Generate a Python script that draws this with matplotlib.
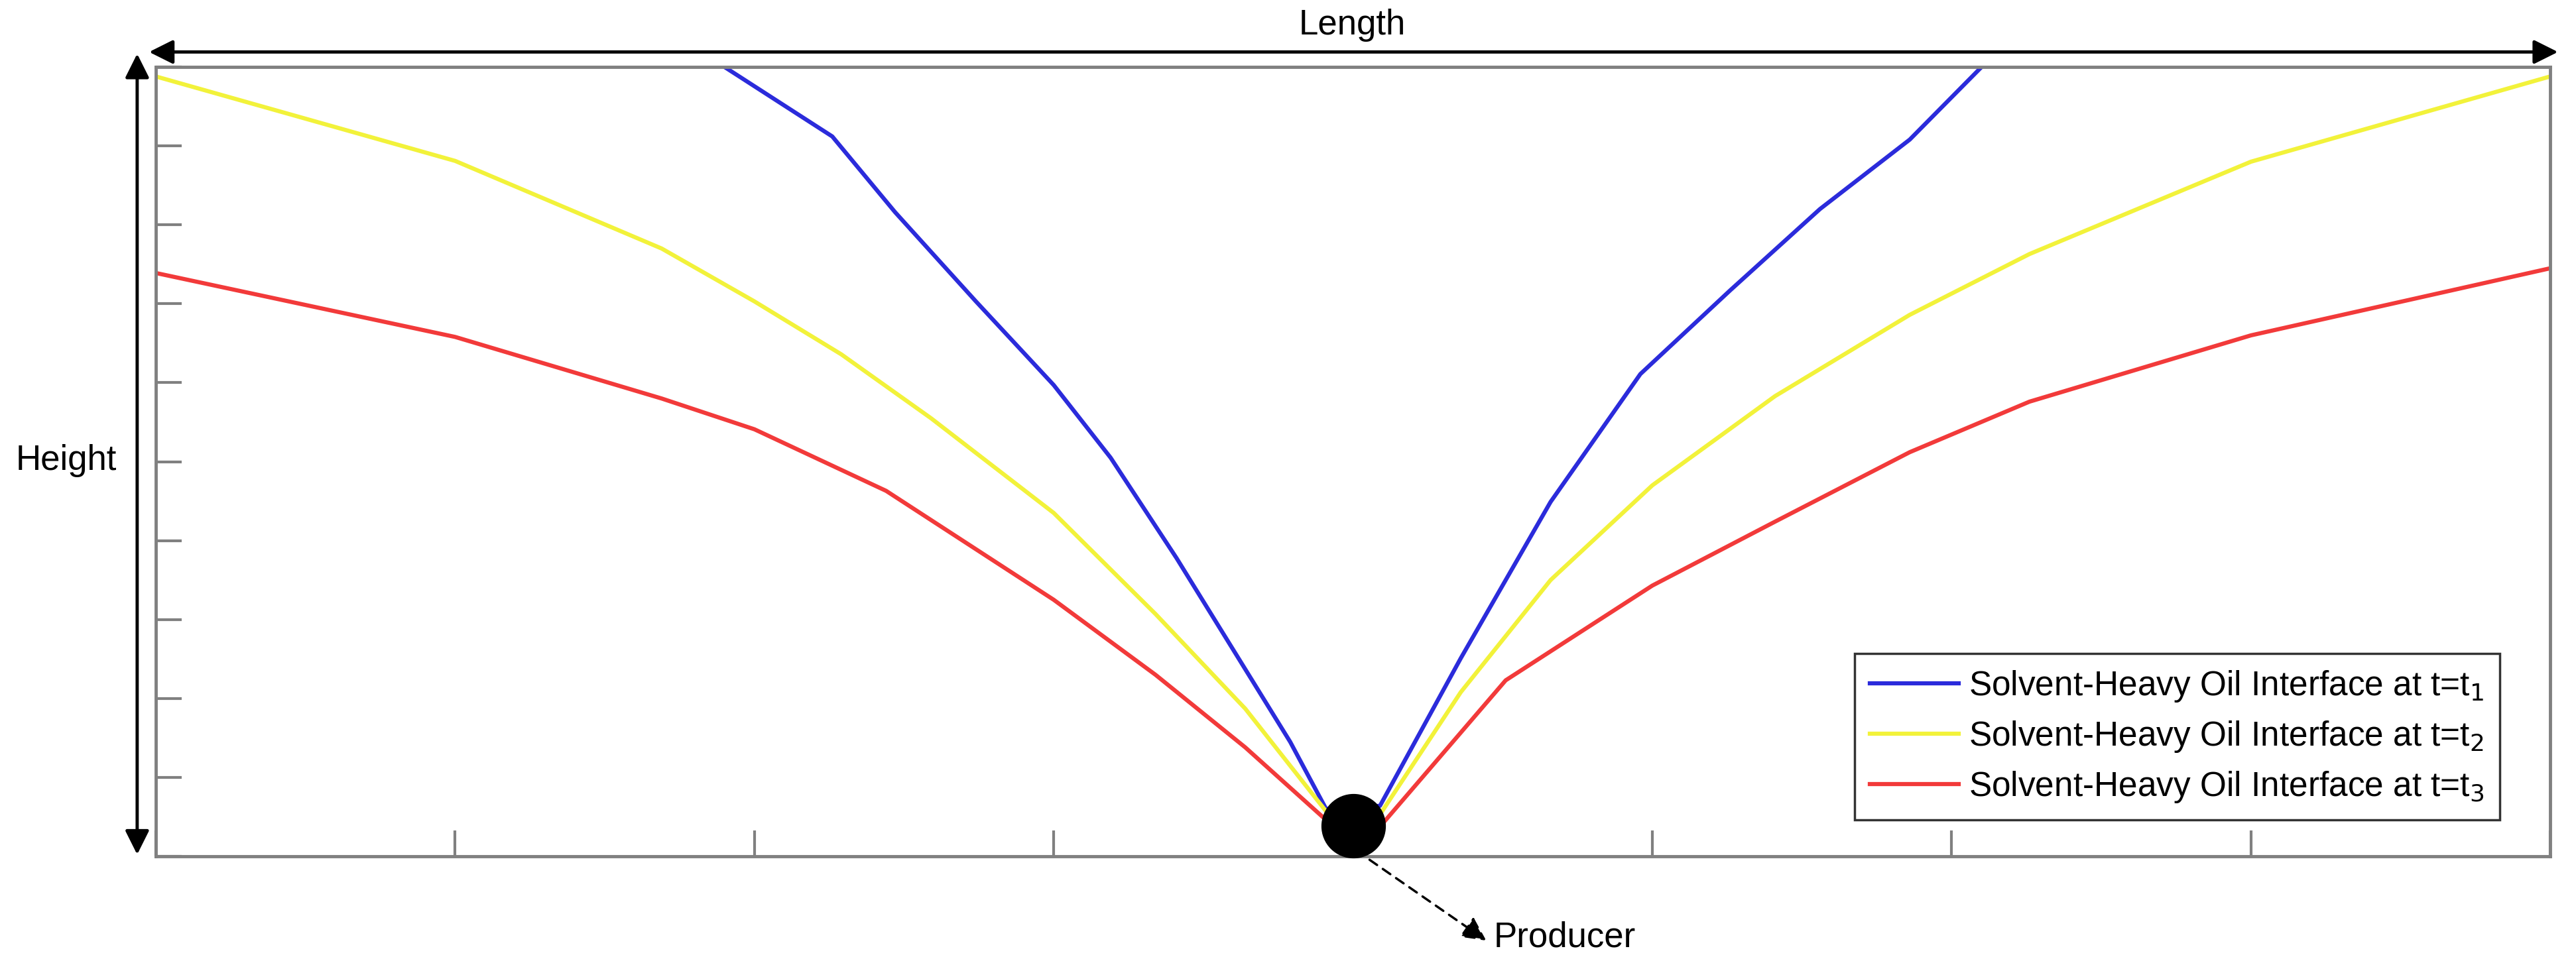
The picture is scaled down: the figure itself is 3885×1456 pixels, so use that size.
import matplotlib
matplotlib.use("Agg")
import matplotlib.pyplot as plt

plt.rcParams['font.family'] = ['Liberation Sans', 'DejaVu Sans']

# interface curves, x in [0, 8] (length units), y in [0, 10] (height units)
t1_x = [1.90, 2.26, 2.47, 2.74, 3.00, 3.19, 3.41, 3.64, 3.79, 3.91,
        4.09, 4.36, 4.66, 4.96, 5.26, 5.56, 5.86, 6.10]
t1_y = [10.0, 9.12, 8.16, 7.03, 5.97, 5.05, 3.78, 2.37, 1.45, 0.60,
        0.64, 2.51, 4.49, 6.11, 7.17, 8.20, 9.08, 10.0]
t2_x = [0.00, 1.00, 1.69, 2.00, 2.29, 2.59, 3.00, 3.34, 3.64, 3.91,
        4.09, 4.36, 4.66, 5.00, 5.41, 5.86, 6.26, 7.00, 8.00]
t2_y = [9.88, 8.81, 7.70, 7.03, 6.36, 5.55, 4.35, 3.07, 1.87, 0.57,
        0.53, 2.08, 3.50, 4.70, 5.83, 6.86, 7.63, 8.80, 9.88]
t3_x = [0.00, 1.00, 1.69, 2.00, 2.44, 3.00, 3.34, 3.64, 3.91,
        4.10, 4.51, 5.00, 5.41, 5.86, 6.26, 7.00, 8.00]
t3_y = [7.39, 6.58, 5.80, 5.41, 4.63, 3.25, 2.30, 1.38, 0.46,
        0.42, 2.23, 3.43, 4.24, 5.12, 5.76, 6.60, 7.45]
labels = ["Solvent-Heavy Oil Interface at t=t$_1$",
          "Solvent-Heavy Oil Interface at t=t$_2$",
          "Solvent-Heavy Oil Interface at t=t$_3$"]
producer = (4.0, 0.39)

fig = plt.figure(figsize=(38.85, 14.56), dpi=100)
ax = fig.add_axes([0.0605, 0.1126, 0.9295, 0.818])
ax.plot(t1_x, t1_y, color="#2b2bdb", lw=4.5, label=labels[0])
ax.plot(t2_x, t2_y, color="#f2f23a", lw=4.5, label=labels[1])
ax.plot(t3_x, t3_y, color="#f23a3a", lw=4.5, label=labels[2])
ax.plot(*producer, "o", color="k", ms=69, zorder=5, clip_on=False)
ax.set_xlim(0, 8); ax.set_ylim(0, 10)
ax.set_xticks(range(0, 9)); ax.set_yticks(range(0, 11))
ax.set_xticklabels([]); ax.set_yticklabels([])
ax.tick_params(direction="in", length=28, width=3, color="#808080")
for s in ax.spines.values():
    s.set_color("#808080"); s.set_linewidth(3.5)
leg = ax.legend(loc="lower right", fontsize=37, frameon=True, fancybox=False,
                borderpad=0.45, labelspacing=0.45, handlelength=2.6, handletextpad=0.3,
                borderaxespad=0, bbox_to_anchor=(0.979, 0.046))
leg.get_frame().set_edgecolor("k"); leg.get_frame().set_linewidth(2.5)

arr = dict(arrowstyle="<|-|>", color="k", lw=3.5, mutation_scale=55)
ax.annotate("", xy=(-0.0036, 1.019), xytext=(1.004, 1.019), xycoords="axes fraction",
            arrowprops=arr, annotation_clip=False)
fig.text(0.525, 0.974, "Length", ha="center", va="center", fontsize=38)
ax.annotate("", xy=(-0.0078, 0.0), xytext=(-0.0078, 1.019), xycoords="axes fraction",
            arrowprops=arr, annotation_clip=False)
fig.text(0.0257, 0.523, "Height", ha="center", va="center", fontsize=38)
ax.annotate("", xy=(4.45, -1.08), xytext=(4.05, -0.03), annotation_clip=False,
            arrowprops=dict(arrowstyle="-|>", color="k", lw=2.5, ls=(0, (4, 3)),
                            mutation_scale=55))
ax.text(4.47, -1.03, "Producer", fontsize=38, va="center", ha="left", clip_on=False)
fig.savefig("out.png", dpi=100)
